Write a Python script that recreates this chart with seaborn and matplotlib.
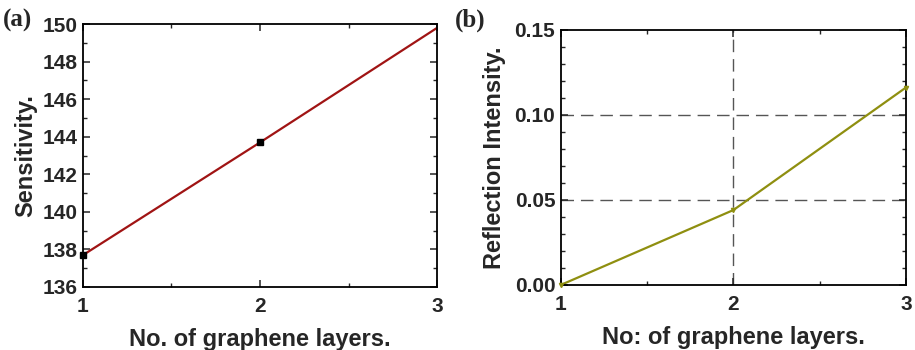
import matplotlib
matplotlib.use("Agg")
import matplotlib.pyplot as plt
import seaborn as sns
import pandas as pd
from matplotlib.ticker import MultipleLocator

layers = [1, 2, 3]
sensitivity = [137.7, 143.7, 149.8]
reflection = [0.0, 0.044, 0.116]

sns.set_style("ticks")
plt.rcParams['font.family'] = ['Liberation Sans', 'DejaVu Sans']
plt.rcParams['font.weight'] = 'bold'

fig = plt.figure(figsize=(9.15, 3.5), dpi=100)
ax1 = fig.add_axes([0.0907, 0.18, 0.3869, 0.751])
ax2 = fig.add_axes([0.613, 0.186, 0.377, 0.729])

df = pd.DataFrame({"layers": layers, "sens": sensitivity, "refl": reflection})

sns.lineplot(data=df, x="layers", y="sens", ax=ax1, color="#a01414", lw=1.6)
ax1.plot(df["layers"][:2], df["sens"][:2], 's', color="black", ms=4, clip_on=False, zorder=5)
ax1.set_xlim(1, 3)
ax1.set_ylim(136, 150)
ax1.xaxis.set_major_locator(MultipleLocator(1))
ax1.xaxis.set_minor_locator(MultipleLocator(0.5))
ax1.yaxis.set_major_locator(MultipleLocator(2))
ax1.yaxis.set_minor_locator(MultipleLocator(1))
ax1.set_xlabel("No. of graphene layers.", fontsize=17, fontweight='bold', labelpad=9)
ax1.set_ylabel("Sensitivity.", fontsize=17, fontweight='bold', labelpad=4)

sns.lineplot(data=df, x="layers", y="refl", ax=ax2, color="#8f8f10", lw=1.6)
ax2.plot(df["layers"], df["refl"], 'v', color="#8f8f10", ms=3, clip_on=False, zorder=5)
ax2.set_xlim(1, 3)
ax2.set_ylim(0, 0.15)
ax2.xaxis.set_major_locator(MultipleLocator(1))
ax2.xaxis.set_minor_locator(MultipleLocator(0.5))
ax2.yaxis.set_major_locator(MultipleLocator(0.05))
ax2.yaxis.set_minor_locator(MultipleLocator(0.01))
ax2.yaxis.set_major_formatter(matplotlib.ticker.FormatStrFormatter('%.2f'))
for yv in [0.05, 0.10]:
    ax2.axhline(yv, color="#555555", lw=1.0, ls=(0, (9, 5)), zorder=0)
ax2.axvline(2, color="#555555", lw=1.0, ls=(0, (9, 5)), zorder=0)
ax2.set_xlabel("No: of graphene layers.", fontsize=17, fontweight='bold', labelpad=9)
ax2.set_ylabel("Reflection Intensity.", fontsize=17, fontweight='bold', labelpad=6)

for ax in (ax1, ax2):
    for s in ax.spines.values():
        s.set_linewidth(1.3)
        s.set_color("black")
    ax.tick_params(which='both', direction='in', top=True, right=True, labelsize=15)
    ax.tick_params(which='major', length=5, width=1.1)
    ax.tick_params(which='minor', length=3, width=1.0)
    ax.tick_params(axis='x', which='major', pad=7)
    ax.tick_params(axis='y', which='major', pad=4)
    for lbl in ax.get_xticklabels() + ax.get_yticklabels():
        lbl.set_fontweight('bold')

fig.text(0.003, 0.975, "(a)", fontsize=18, fontweight='bold', family=['Liberation Serif', 'DejaVu Serif'], va='top')
fig.text(0.497, 0.975, "(b)", fontsize=18, fontweight='bold', family=['Liberation Serif', 'DejaVu Serif'], va='top')

fig.savefig("out.png", dpi=100)
